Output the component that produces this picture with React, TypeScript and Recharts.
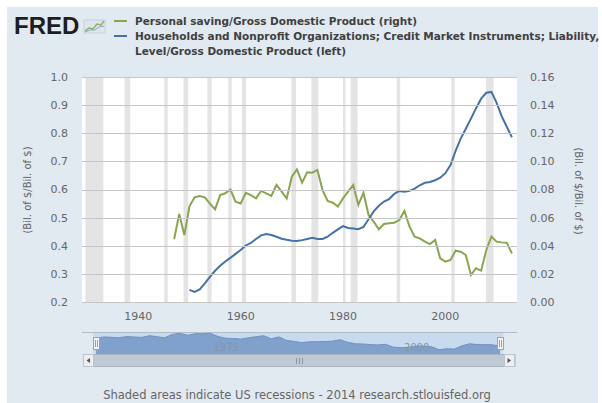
import React from 'react';
import { LineChart, Line, XAxis, YAxis, ReferenceArea, AreaChart, Area } from 'recharts';

const years = [
  1947, 1948, 1949, 1950, 1951, 1952, 1953, 1954, 1955, 1956,
  1957, 1958, 1959, 1960, 1961, 1962, 1963, 1964, 1965, 1966,
  1967, 1968, 1969, 1970, 1971, 1972, 1973, 1974, 1975, 1976,
  1977, 1978, 1979, 1980, 1981, 1982, 1983, 1984, 1985, 1986,
  1987, 1988, 1989, 1990, 1991, 1992, 1993, 1994, 1995, 1996,
  1997, 1998, 1999, 2000, 2001, 2002, 2003, 2004, 2005, 2006,
  2007, 2008, 2009, 2010, 2011, 2012, 2013,
];

// Personal saving / GDP (right axis)
const savingToGdp = [
  0.0446, 0.0626, 0.0476, 0.068, 0.0744, 0.0754, 0.0744, 0.070, 0.0659, 0.076,
  0.0773, 0.080, 0.0713, 0.070, 0.0777, 0.076, 0.0737, 0.079, 0.0773, 0.0754,
  0.0832, 0.0785, 0.0737, 0.0891, 0.0943, 0.0849, 0.0922, 0.092, 0.0939, 0.0796,
  0.0718, 0.0706, 0.0678, 0.0737, 0.0785, 0.0832, 0.069, 0.0777, 0.0619, 0.0571,
  0.0517, 0.0555, 0.056, 0.0564, 0.0583, 0.0647, 0.0536, 0.0465, 0.0453, 0.0429,
  0.0412, 0.0441, 0.031, 0.0287, 0.0299, 0.0365, 0.0358, 0.0334, 0.0192, 0.024,
  0.0223, 0.037, 0.0465, 0.0429, 0.0424, 0.0422, 0.0346,
];

// Households & nonprofits credit market liabilities / GDP (left axis)
const householdDebtToGdp = [
  null, null, null, 0.243, 0.236, 0.245, 0.266, 0.289, 0.311, 0.329,
  0.344, 0.357, 0.371, 0.385, 0.401, 0.410, 0.424, 0.437, 0.442, 0.438,
  0.432, 0.425, 0.421, 0.418, 0.417, 0.420, 0.424, 0.428, 0.424, 0.424,
  0.432, 0.446, 0.458, 0.470, 0.463, 0.461, 0.459, 0.467, 0.494, 0.522,
  0.542, 0.557, 0.566, 0.584, 0.595, 0.592, 0.595, 0.603, 0.615, 0.624,
  0.627, 0.633, 0.642, 0.658, 0.687, 0.737, 0.781, 0.816, 0.852, 0.889,
  0.923, 0.944, 0.947, 0.909, 0.861, 0.823, 0.786,
];

const recessions: [number, number][] = [
  [1929.67, 1933.17], [1937.33, 1938.42], [1945.08, 1945.75], [1948.83, 1949.75],
  [1953.5, 1954.33], [1957.58, 1958.25], [1960.25, 1961.08], [1969.92, 1970.83],
  [1973.83, 1975.17], [1980.0, 1980.5], [1981.5, 1982.83], [1990.5, 1991.17],
  [2001.17, 2001.83], [2007.92, 2009.42],
];

const xTicks = [1940, 1960, 1980, 2000];
const leftTicks = [0.2, 0.3, 0.4, 0.5, 0.6, 0.7, 0.8, 0.9, 1.0];
const rightTicks = [0, 0.02, 0.04, 0.06, 0.08, 0.1, 0.12, 0.14, 0.16];
const navTicks = [1975, 2000];

const legendLine1 = 'Personal saving/Gross Domestic Product (right)';
const legendLine2 = 'Households and Nonprofit Organizations; Credit Market Instruments; Liability,';
const legendLine3 = 'Level/Gross Domestic Product (left)';
const axisTitle = '(Bil. of $/Bil. of $)';
const footer = 'Shaded areas indicate US recessions - 2014 research.stlouisfed.org';

const rows = years.map((y, i) => ({ year: y, saving: savingToGdp[i], debt: householdDebtToGdp[i] }));
const navRows = rows.filter((r) => r.year >= 1960);

const GREEN = '#89A54E';
const BLUE = '#4572A7';
const FONT = 'DejaVu Sans, Verdana, sans-serif';
const tickStyle = { fill: '#666', fontSize: 11, fontFamily: FONT };

const PLOT_LEFT = 82;
const PLOT_RIGHT = 517;

// Left axis tick: label plus a horizontal grid line across the plot at the scaled tick position
const LeftTick = (props: any) => {
  const { x, y, payload } = props;
  const gy = Math.round(y) + 0.5;
  return (
    <g>
      <line x1={PLOT_LEFT} x2={PLOT_RIGHT} y1={gy} y2={gy} stroke="#c6c6c6" strokeWidth={1} shapeRendering="crispEdges" />
      <text x={x} y={y} dy="0.355em" textAnchor="end" fill="#666" fontSize={11} fontFamily={FONT}>
        {Number(payload.value).toFixed(1)}
      </text>
    </g>
  );
};

const NavTick = (props: any) => {
  const { x, payload } = props;
  return (
    <text x={x + 3} y={19} fill="#8796a6" fontSize={10} fontFamily={FONT}>
      {payload.value}
    </text>
  );
};

export default function App() {
  return (
    <div style={{ position: 'absolute', left: 0, top: 0, width: 602, height: 403, background: '#fff', overflow: 'hidden' }}>
      <svg width={602} height={403} style={{ position: 'absolute', left: 0, top: 0 }}>
        <rect x={7} y={7} width={591} height={396} fill="#e1e9f1" />
        {/* plot background */}
        <rect x={82} y={77} width={435} height={225} fill="#ffffff" />
        {/* logo */}
        <text x={14} y={34} fontFamily="Liberation Sans, Arial, sans-serif" fontWeight="bold" fontSize={24} fill="#1e1e1e">FRED</text>
        <rect x={84} y={20} width={21} height={13} fill="#dde5ee" stroke="#c9d2dc" />
        <polyline points="85,31 89,28 93,29 97,24 101,25 104,21" fill="none" stroke="#8fb25a" strokeWidth={1.5} />
        <polyline points="85,32 90,30 95,30 99,27 104,26" fill="none" stroke="#8aa6c8" strokeWidth={1} />
        {/* legend */}
        <line x1={114} x2={127} y1={21} y2={21} stroke={GREEN} strokeWidth={2} />
        <line x1={114} x2={127} y1={36} y2={36} stroke={BLUE} strokeWidth={2} />
        <g fontFamily={FONT} fontWeight="bold" fontSize={10.5} fill="#404040">
          <text x={135} y={25}>{legendLine1}</text>
          <text x={135} y={40}>{legendLine2}</text>
          <text x={135} y={55}>{legendLine3}</text>
        </g>
        {/* axis titles */}
        <text x={0} y={0} transform="translate(31,190) rotate(-90)" textAnchor="middle" fontFamily={FONT} fontSize={10} fill="#666">{axisTitle}</text>
        <text x={0} y={0} transform="translate(575,191) rotate(90)" textAnchor="middle" fontFamily={FONT} fontSize={10} fill="#666">{axisTitle}</text>
        {/* navigator background */}
        <line x1={82} x2={517} y1={332.5} y2={332.5} stroke="#b4bdc7" strokeWidth={1} />
        <rect x={93} y={333} width={410} height={21} fill="#c8daee" />
        {/* scrollbar */}
        <rect x={83.5} y={354.5} width={432} height={12} fill="#e6eaee" stroke="#c4ccd4" />
        <rect x={93.5} y={354.5} width={411} height={12} fill="#bfc9d3" stroke="#aab5bf" />
        <rect x={83.5} y={354.5} width={10} height={12} fill="#eceff2" stroke="#bcc4cc" />
        <rect x={504.5} y={354.5} width={10} height={12} fill="#eceff2" stroke="#bcc4cc" />
        <path d="M90,358 L86.5,360.5 L90,363 Z" fill="#555" />
        <path d="M507.5,358 L511,360.5 L507.5,363 Z" fill="#555" />
        <line x1={296.5} x2={296.5} y1={358} y2={364} stroke="#8a96a2" />
        <line x1={299.5} x2={299.5} y1={358} y2={364} stroke="#8a96a2" />
        <line x1={302.5} x2={302.5} y1={358} y2={364} stroke="#8a96a2" />
        {/* footer */}
        <text x={297} y={399} textAnchor="middle" fontFamily={FONT} fontSize={11.5} fill="#666">{footer}</text>
      </svg>

      <div style={{ position: 'absolute', left: 0, top: 0 }}>
        <LineChart width={602} height={332} data={rows} margin={{ top: 77, right: 0, bottom: 0, left: 0 }}>
          {recessions.map((r, i) => (
            <ReferenceArea key={`r${i}`} yAxisId="left" x1={r[0]} x2={r[1]} fill="#e4e4e4" fillOpacity={1} strokeOpacity={0} />
          ))}
          <XAxis
            dataKey="year"
            type="number"
            domain={[1929, 2014]}
            ticks={xTicks}
            allowDataOverflow
            height={30}
            axisLine={false}
            tickLine={false}
            tickSize={5}
            tickMargin={5}
            tick={tickStyle}
          />
          <YAxis
            yAxisId="left"
            orientation="left"
            width={82}
            domain={[0.2, 1.0]}
            ticks={leftTicks}
            interval={0}
            axisLine={false}
            tickLine={false}
            tickSize={6}
            tickMargin={8}
            tick={<LeftTick />}
          />
          <YAxis
            yAxisId="right"
            orientation="right"
            width={85}
            domain={[0, 0.16]}
            ticks={rightTicks}
            interval={0}
            axisLine={false}
            tickLine={false}
            tickSize={6}
            tickMargin={7}
            tick={tickStyle}
            tickFormatter={(v: number) => v.toFixed(2)}
          />
          <Line yAxisId="right" dataKey="saving" stroke={GREEN} strokeWidth={2} dot={false} isAnimationActive={false} />
          <Line yAxisId="left" dataKey="debt" stroke={BLUE} strokeWidth={2} dot={false} isAnimationActive={false} />
        </LineChart>
      </div>

      <div style={{ position: 'absolute', left: 96, top: 332 }}>
        <AreaChart width={404} height={23} data={navRows} margin={{ top: 0, right: 0, bottom: 0, left: 0 }}>
          <XAxis
            dataKey="year"
            type="number"
            domain={[1960, 2013]}
            ticks={navTicks}
            height={1}
            axisLine={false}
            tickLine={false}
            tick={<NavTick />}
            interval={0}
          />
          <YAxis hide domain={[0, 0.1]} />
          <Area dataKey="saving" stroke="#6f92c2" strokeWidth={1} fill="#7fa1cc" fillOpacity={1} isAnimationActive={false} />
        </AreaChart>
      </div>

      <svg width={602} height={403} style={{ position: 'absolute', left: 0, top: 0, pointerEvents: 'none' }}>
        <rect x={93.5} y={337.5} width={6} height={12} fill="#f2f2f2" stroke="#9aa3ad" />
        <line x1={95.5} x2={95.5} y1={340} y2={347} stroke="#9aa3ad" />
        <line x1={97.5} x2={97.5} y1={340} y2={347} stroke="#9aa3ad" />
        <rect x={497.5} y={337.5} width={6} height={12} fill="#f2f2f2" stroke="#9aa3ad" />
        <line x1={499.5} x2={499.5} y1={340} y2={347} stroke="#9aa3ad" />
        <line x1={501.5} x2={501.5} y1={340} y2={347} stroke="#9aa3ad" />
      </svg>
    </div>
  );
}
